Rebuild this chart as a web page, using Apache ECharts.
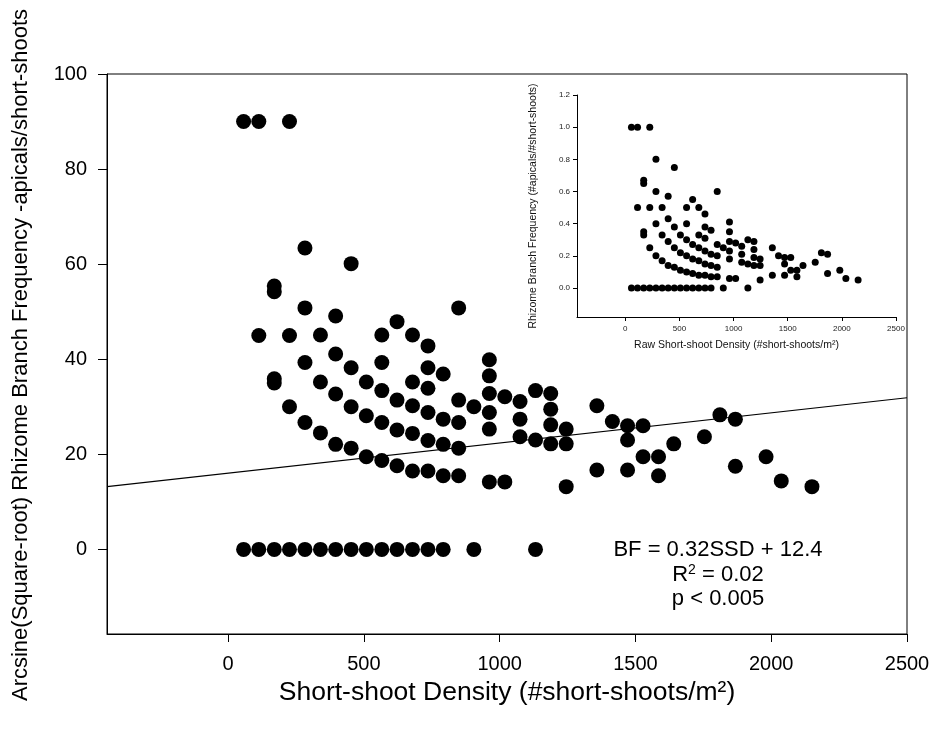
<!DOCTYPE html>
<html>
<head>
<meta charset="utf-8">
<title>Rhizome branch frequency vs short-shoot density</title>
<script src="https://cdn.jsdelivr.net/npm/echarts@6/dist/echarts.min.js"></script>
<style>
  html, body { margin: 0; padding: 0; background: #fff; }
  #chart { width: 934px; height: 734px; }
</style>
</head>
<body>
<div id="chart"></div>
<script>
// short-shoot density columns (#short-shoots/m2)
var density = [57, 113, 170, 226, 283, 340, 396, 453, 509, 566, 622, 679, 736, 792, 849, 905,
  962, 1019, 1075, 1132, 1188, 1245, 1358, 1415, 1471, 1528, 1585, 1641, 1754, 1811, 1868,
  1981, 2037, 2150];

// arcsine(sqrt) branch frequency, one list per density column (main plot)
var arcsineBF = [
  [90, 0],
  [90, 45, 0],
  [55.4, 54.2, 35.9, 35.0, 0],
  [90, 45, 30.0, 0],
  [63.4, 50.8, 39.3, 26.7, 0],
  [45.1, 35.2, 24.5, 0],
  [49.1, 41.1, 32.7, 22.1, 0],
  [60.1, 38.2, 30.0, 21.3, 0],
  [35.2, 28.1, 19.5, 0],
  [45.1, 39.3, 33.4, 26.7, 18.7, 0],
  [47.9, 31.4, 25.1, 17.6, 0],
  [45.1, 35.2, 30.2, 24.4, 16.5, 0],
  [42.8, 38.2, 33.9, 28.8, 22.9, 16.5, 0],
  [36.9, 27.4, 22.1, 15.5, 0],
  [50.8, 31.4, 26.7, 21.3, 15.5],
  [30.0, 0],
  [39.9, 36.5, 32.8, 28.8, 25.3, 14.2],
  [32.1, 14.2],
  [31.1, 27.4, 23.7],
  [33.4, 23.0, 0],
  [32.8, 29.5, 26.2, 22.2],
  [25.3, 22.2, 13.2],
  [30.2, 16.7],
  [26.9],
  [26.0, 23.0, 16.7],
  [26.0, 19.5],
  [19.5, 15.5],
  [22.2],
  [23.7],
  [28.3],
  [27.4, 17.5],
  [19.5],
  [14.4],
  [13.2]
];

// raw branch frequency (#apicals/#short-shoots), same columns (inset)
var rawBF = [
  [1.0, 0],
  [1.0, 0.5, 0],
  [0.67, 0.65, 0.35, 0.33, 0],
  [1.0, 0.5, 0.25, 0],
  [0.8, 0.6, 0.4, 0.2, 0],
  [0.5, 0.33, 0.17, 0],
  [0.57, 0.43, 0.29, 0.14, 0],
  [0.75, 0.38, 0.25, 0.13, 0],
  [0.33, 0.22, 0.11, 0],
  [0.5, 0.4, 0.3, 0.2, 0.1, 0],
  [0.55, 0.27, 0.18, 0.09, 0],
  [0.5, 0.33, 0.25, 0.17, 0.08, 0],
  [0.46, 0.38, 0.31, 0.23, 0.15, 0.08, 0],
  [0.36, 0.21, 0.14, 0.07, 0],
  [0.6, 0.27, 0.2, 0.13, 0.07],
  [0.25, 0],
  [0.41, 0.35, 0.29, 0.23, 0.18, 0.06],
  [0.28, 0.06],
  [0.26, 0.21, 0.16],
  [0.30, 0.15, 0],
  [0.29, 0.24, 0.19, 0.14],
  [0.18, 0.14, 0.05],
  [0.25, 0.08],
  [0.2],
  [0.19, 0.15, 0.08],
  [0.19, 0.11],
  [0.11, 0.07],
  [0.14],
  [0.16],
  [0.22],
  [0.21, 0.09],
  [0.11],
  [0.06],
  [0.05]
];

// fitted line as drawn across the main plot
var fitX = [-446, 2500];
var fitY = [13.2, 31.9];

var xTicks = [0, 500, 1000, 1500, 2000, 2500];
var yTicks = [0, 20, 40, 60, 80, 100];
var insetYTicks = [0, 0.2, 0.4, 0.6, 0.8, 1.0, 1.2];

function pairs(cols) {
  var out = [];
  density.forEach(function (x, i) {
    cols[i].forEach(function (y) { out.push([x, y]); });
  });
  return out;
}

var FONT = "'Liberation Sans', Arial, sans-serif";
var myChart = echarts.init(document.getElementById('chart'), null, { renderer: 'canvas' });

var option = {
  animation: false,
  backgroundColor: '#fff',
  grid: [
    { left: 107, right: 27, top: 74, bottom: 100, outerBoundsMode: 'none',
      show: true, borderColor: '#000', borderWidth: 1, backgroundColor: 'transparent' },
    { left: 577, right: 38, top: 95, bottom: 417, outerBoundsMode: 'none' }
  ],
  xAxis: [
    {
      type: 'value', gridIndex: 0, min: -446, max: 2500,
      splitLine: { show: false },
      axisLine: { show: true, onZero: false, lineStyle: { color: '#000', width: 1 } },
      axisTick: { show: true, inside: false, length: 8, customValues: xTicks, lineStyle: { color: '#000' } },
      axisLabel: { customValues: xTicks, margin: 20, color: '#000', fontSize: 20, fontFamily: FONT,
        formatter: function (v) { return String(v); } },
      name: 'Short-shoot Density (#short-shoots/m²)',
      nameLocation: 'middle', nameGap: 45,
      nameTextStyle: { color: '#000', fontSize: 26.5, fontFamily: FONT }
    },
    {
      type: 'value', gridIndex: 1, min: -446, max: 2500,
      splitLine: { show: false },
      axisLine: { show: true, onZero: false, lineStyle: { color: '#000', width: 1 } },
      axisTick: { show: true, length: 4, customValues: xTicks, lineStyle: { color: '#000' } },
      axisLabel: { customValues: xTicks, margin: 8, color: '#222', fontSize: 8, fontFamily: FONT,
        formatter: function (v) { return String(v); } },
      name: 'Raw Short-shoot Density (#short-shoots/m²)',
      nameLocation: 'middle', nameGap: 23,
      nameTextStyle: { color: '#111', fontSize: 10.5, fontFamily: FONT }
    }
  ],
  yAxis: [
    {
      type: 'value', gridIndex: 0, min: -17.8, max: 100,
      splitLine: { show: false },
      axisLine: { show: true, onZero: false, lineStyle: { color: '#000', width: 1 } },
      axisTick: { show: true, length: 9, customValues: yTicks, lineStyle: { color: '#000' } },
      axisLabel: { customValues: yTicks, margin: 20, color: '#000', fontSize: 20, fontFamily: FONT }
    },
    {
      type: 'value', gridIndex: 1, min: -0.18, max: 1.2,
      splitLine: { show: false },
      axisLine: { show: true, onZero: false, lineStyle: { color: '#000', width: 1 } },
      axisTick: { show: true, length: 4, customValues: insetYTicks, lineStyle: { color: '#000' } },
      axisLabel: {
        customValues: insetYTicks, margin: 7, color: '#222', fontSize: 8, fontFamily: FONT,
        formatter: function (v) { return v.toFixed(1); }
      },
      name: 'Rhizome Branch Frequency (#apicals/#short-shoots)',
      nameLocation: 'middle', nameGap: 38,
      nameTextStyle: { color: '#111', fontSize: 10.5, fontFamily: FONT }
    }
  ],
  graphic: [
    {
      type: 'text', x: 21, y: 355, rotation: Math.PI / 2,
      style: {
        text: 'Arcsine(Square-root) Rhizome Branch Frequency -apicals/short-shoots',
        fill: '#000', font: '22px ' + FONT, align: 'center', verticalAlign: 'middle'
      }
    },
    {
      type: 'text', x: 718, y: 550,
      style: { text: 'BF = 0.32SSD + 12.4', fill: '#000', font: '22px ' + FONT,
        align: 'center', verticalAlign: 'middle' }
    },
    {
      type: 'text', x: 718, y: 575,
      style: {
        text: '{n|R}{s|2}{n| = 0.02}', align: 'center', verticalAlign: 'middle',
        rich: {
          n: { fill: '#000', fontSize: 22, fontFamily: FONT },
          s: { fill: '#000', fontSize: 14, fontFamily: FONT, verticalAlign: 'top', padding: [0, 0, 10, 0] }
        }
      }
    },
    {
      type: 'text', x: 718, y: 599,
      style: { text: 'p < 0.005', fill: '#000', font: '22px ' + FONT,
        align: 'center', verticalAlign: 'middle' }
    }
  ],
  series: [
    {
      name: 'fit', type: 'line', xAxisIndex: 0, yAxisIndex: 0,
      data: [[fitX[0], fitY[0]], [fitX[1], fitY[1]]],
      symbol: 'none', lineStyle: { color: '#000', width: 1.2 }, silent: true, z: 1
    },
    {
      name: 'arcsine', type: 'scatter', xAxisIndex: 0, yAxisIndex: 0,
      data: pairs(arcsineBF), symbol: 'circle', symbolSize: 15,
      itemStyle: { color: '#000', opacity: 1 }, z: 2
    },
    {
      name: 'raw', type: 'scatter', xAxisIndex: 1, yAxisIndex: 1,
      data: pairs(rawBF), symbol: 'circle', symbolSize: 7,
      itemStyle: { color: '#000', opacity: 1 }, z: 2
    }
  ]
};

myChart.setOption(option);
</script>
</body>
</html>
